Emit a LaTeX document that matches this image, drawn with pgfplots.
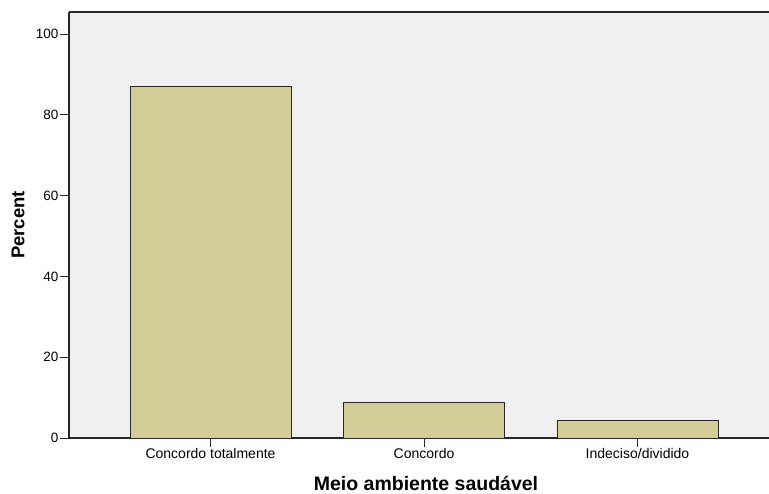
\documentclass[border=0pt]{standalone}
\usepackage{pgfplots}
\pgfplotsset{compat=1.18}
\usepackage{fontspec}
\setmainfont{Liberation Sans}
\definecolor{bgc}{RGB}{240,240,240}
\definecolor{barc}{RGB}{211,206,151}
\definecolor{edgec}{RGB}{40,40,40}
\begin{document}
\begin{tikzpicture}
\begin{axis}[
  name=ax,
  scale only axis,
  width=700pt, height=426pt,
  xmin=-0.663, xmax=2.616,
  ymin=0, ymax=105.45,
  axis background/.style={fill=bgc},
  axis x line*=box, axis y line*=left,
  tick pos=left,
  tick align=outside,
  major tick length=9pt,
  every tick/.style={edgec, line width=0.9pt},
  axis line style={edgec, line width=1.1pt},
  ytick={0,20,40,60,80,100},
  xtick={0,1,2},
  xticklabels={Concordo totalmente, Concordo, Indeciso/dividido},
  /pgf/number format/assume math mode=true,
  yticklabel style={font=\fontsize{13.5}{15}\selectfont, xshift=2pt},
  xticklabel style={font=\fontsize{14}{16}\selectfont, yshift=2pt},
  every axis y label/.style={at={(axis description cs:0,0.5)}, xshift=-51pt, rotate=90, anchor=center, font=\fontsize{18.5}{20}\selectfont\bfseries},
  every axis x label/.style={at={(axis cs:1,0)}, xshift=2pt, yshift=-53pt, anchor=base, font=\fontsize{19.5}{21}\selectfont\bfseries},
  ylabel={Percent},
  xlabel={Meio ambiente saudável},
  ybar, bar width=161pt,
]
\addplot[fill=barc, draw=edgec, line width=0.9pt] coordinates {(0,87.0) (1,8.7) (2,4.3)};
\end{axis}
\pgfresetboundingbox
\path ([xshift=-69pt,yshift=-56pt]ax.south west) rectangle ([yshift=12pt]ax.north east);
\end{tikzpicture}
\end{document}
